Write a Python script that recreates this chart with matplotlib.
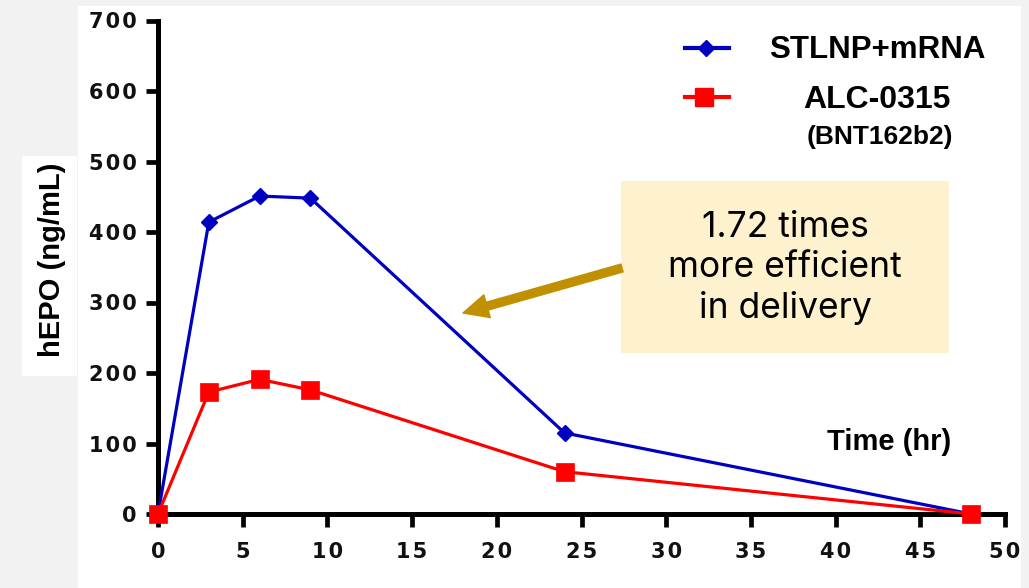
import matplotlib
matplotlib.use("Agg")
import matplotlib.pyplot as plt
from matplotlib.lines import Line2D
from matplotlib.patches import Rectangle, FancyArrowPatch
from matplotlib.ticker import FuncFormatter

# data
time_hr = [0, 3, 6, 9, 24, 48]
stlnp = [0, 414, 451, 448, 115, 0]
alc0315 = [0, 173, 191, 176, 60, 0]

x_ticks = list(range(0, 51, 5))
y_ticks = list(range(0, 701, 100))

W, H = 1029, 588
BLUE = "#0000C0"
RED = "#FF0000"
GOLD = "#C09000"

plt.rcParams["font.family"] = ["Liberation Sans", "DejaVu Sans"]
plt.rcParams["font.weight"] = "bold"


def fx(px):
    return px / W


def fy(py):
    return 1 - py / H


fig = plt.figure(figsize=(W / 100, H / 100), dpi=100, facecolor="#f2f2f2")

# white panels behind the chart and the y label
fig.patches.append(Rectangle((fx(78), 0), fx(1021) - fx(78), fy(6), transform=fig.transFigure,
                             facecolor="white", edgecolor="none", zorder=-10))
fig.patches.append(Rectangle((fx(22), fy(376)), fx(77) - fx(22), fy(156) - fy(376),
                             transform=fig.transFigure, facecolor="white", edgecolor="none", zorder=-10))

ax = fig.add_axes([fx(158), fy(514), fx(1005) - fx(158), fy(20.5) - fy(514)])
ax.set_facecolor("none")

ax.plot(time_hr, stlnp, color=BLUE, lw=2.3, marker="D", ms=8, mec=BLUE, mew=1,
        clip_on=False, zorder=3)
ax.plot(time_hr, alc0315, color=RED, lw=2.3, marker="s", ms=13, mec=RED, mew=0.5,
        clip_on=False, zorder=4)

ax.set_xlim(0, 50)
ax.set_ylim(0, 700)
ax.set_xticks(x_ticks)
ax.set_yticks(y_ticks)

# wide, slightly tracked digits like the original graphpad axis
spaced = FuncFormatter(lambda v, pos: "\u200a".join(str(int(v))))
ax.xaxis.set_major_formatter(spaced)
ax.yaxis.set_major_formatter(spaced)

for s in ["top", "right"]:
    ax.spines[s].set_visible(False)
for s in ["left", "bottom"]:
    ax.spines[s].set_linewidth(3.6)
    ax.spines[s].set_color("black")

ax.tick_params(axis="both", which="major", length=9, width=3.4, color="black",
               labelcolor="#111111", labelsize=15)
ax.tick_params(axis="x", pad=11)
ax.tick_params(axis="y", pad=6.5)
for lab in ax.get_xticklabels() + ax.get_yticklabels():
    lab.set_family("DejaVu Sans")

# axis titles
fig.text(fx(52), fy(260), "hEPO (ng/mL)", rotation=90, ha="center", va="center",
         fontsize=21, fontweight="bold")
fig.text(fx(889), fy(442), "Time (hr)", ha="center", va="center",
         fontsize=21, fontweight="bold")

# legend drawn by hand
fig.add_artist(Line2D([fx(685), fx(729)], [fy(48), fy(48)], transform=fig.transFigure,
                      color=BLUE, lw=3))
fig.add_artist(Line2D([fx(706)], [fy(48)], transform=fig.transFigure, color=BLUE,
                      marker="D", ms=8, mec=BLUE))
fig.add_artist(Line2D([fx(685), fx(729)], [fy(97), fy(97)], transform=fig.transFigure,
                      color=RED, lw=3))
fig.add_artist(Line2D([fx(704)], [fy(97)], transform=fig.transFigure, color=RED,
                      marker="s", ms=13, mec=RED))
fig.text(fx(877), fy(50), "STLNP+mRNA", ha="center", va="center",
         fontsize=22.5, fontweight="bold")
fig.text(fx(877), fy(100), "ALC-0315", ha="center", va="center",
         fontsize=23, fontweight="bold")
fig.text(fx(880), fy(137), "(BNT162b2)", ha="center", va="center",
         fontsize=19, fontweight="bold")

# call-out box and arrow
fig.patches.append(Rectangle((fx(621), fy(353)), fx(949) - fx(621), fy(181) - fy(353),
                             transform=fig.transFigure, facecolor="#FEF1CD", edgecolor="none",
                             zorder=5))
fig.text(fx(785), fy(268), "1.72 times\nmore efficient\nin delivery", ha="center", va="center",
         fontsize=25.5, family="Inter", fontweight="normal", linespacing=1.27, zorder=6)
fig.patches.append(FancyArrowPatch((fx(622), fy(268)), (fx(463), fy(313)),
                                   transform=fig.transFigure,
                                   arrowstyle="simple,tail_width=5.8,head_width=17,head_length=18",
                                   mutation_scale=1, color=GOLD, shrinkA=0, shrinkB=0, zorder=6))

plt.savefig("out.png", dpi=100, facecolor=fig.get_facecolor())
